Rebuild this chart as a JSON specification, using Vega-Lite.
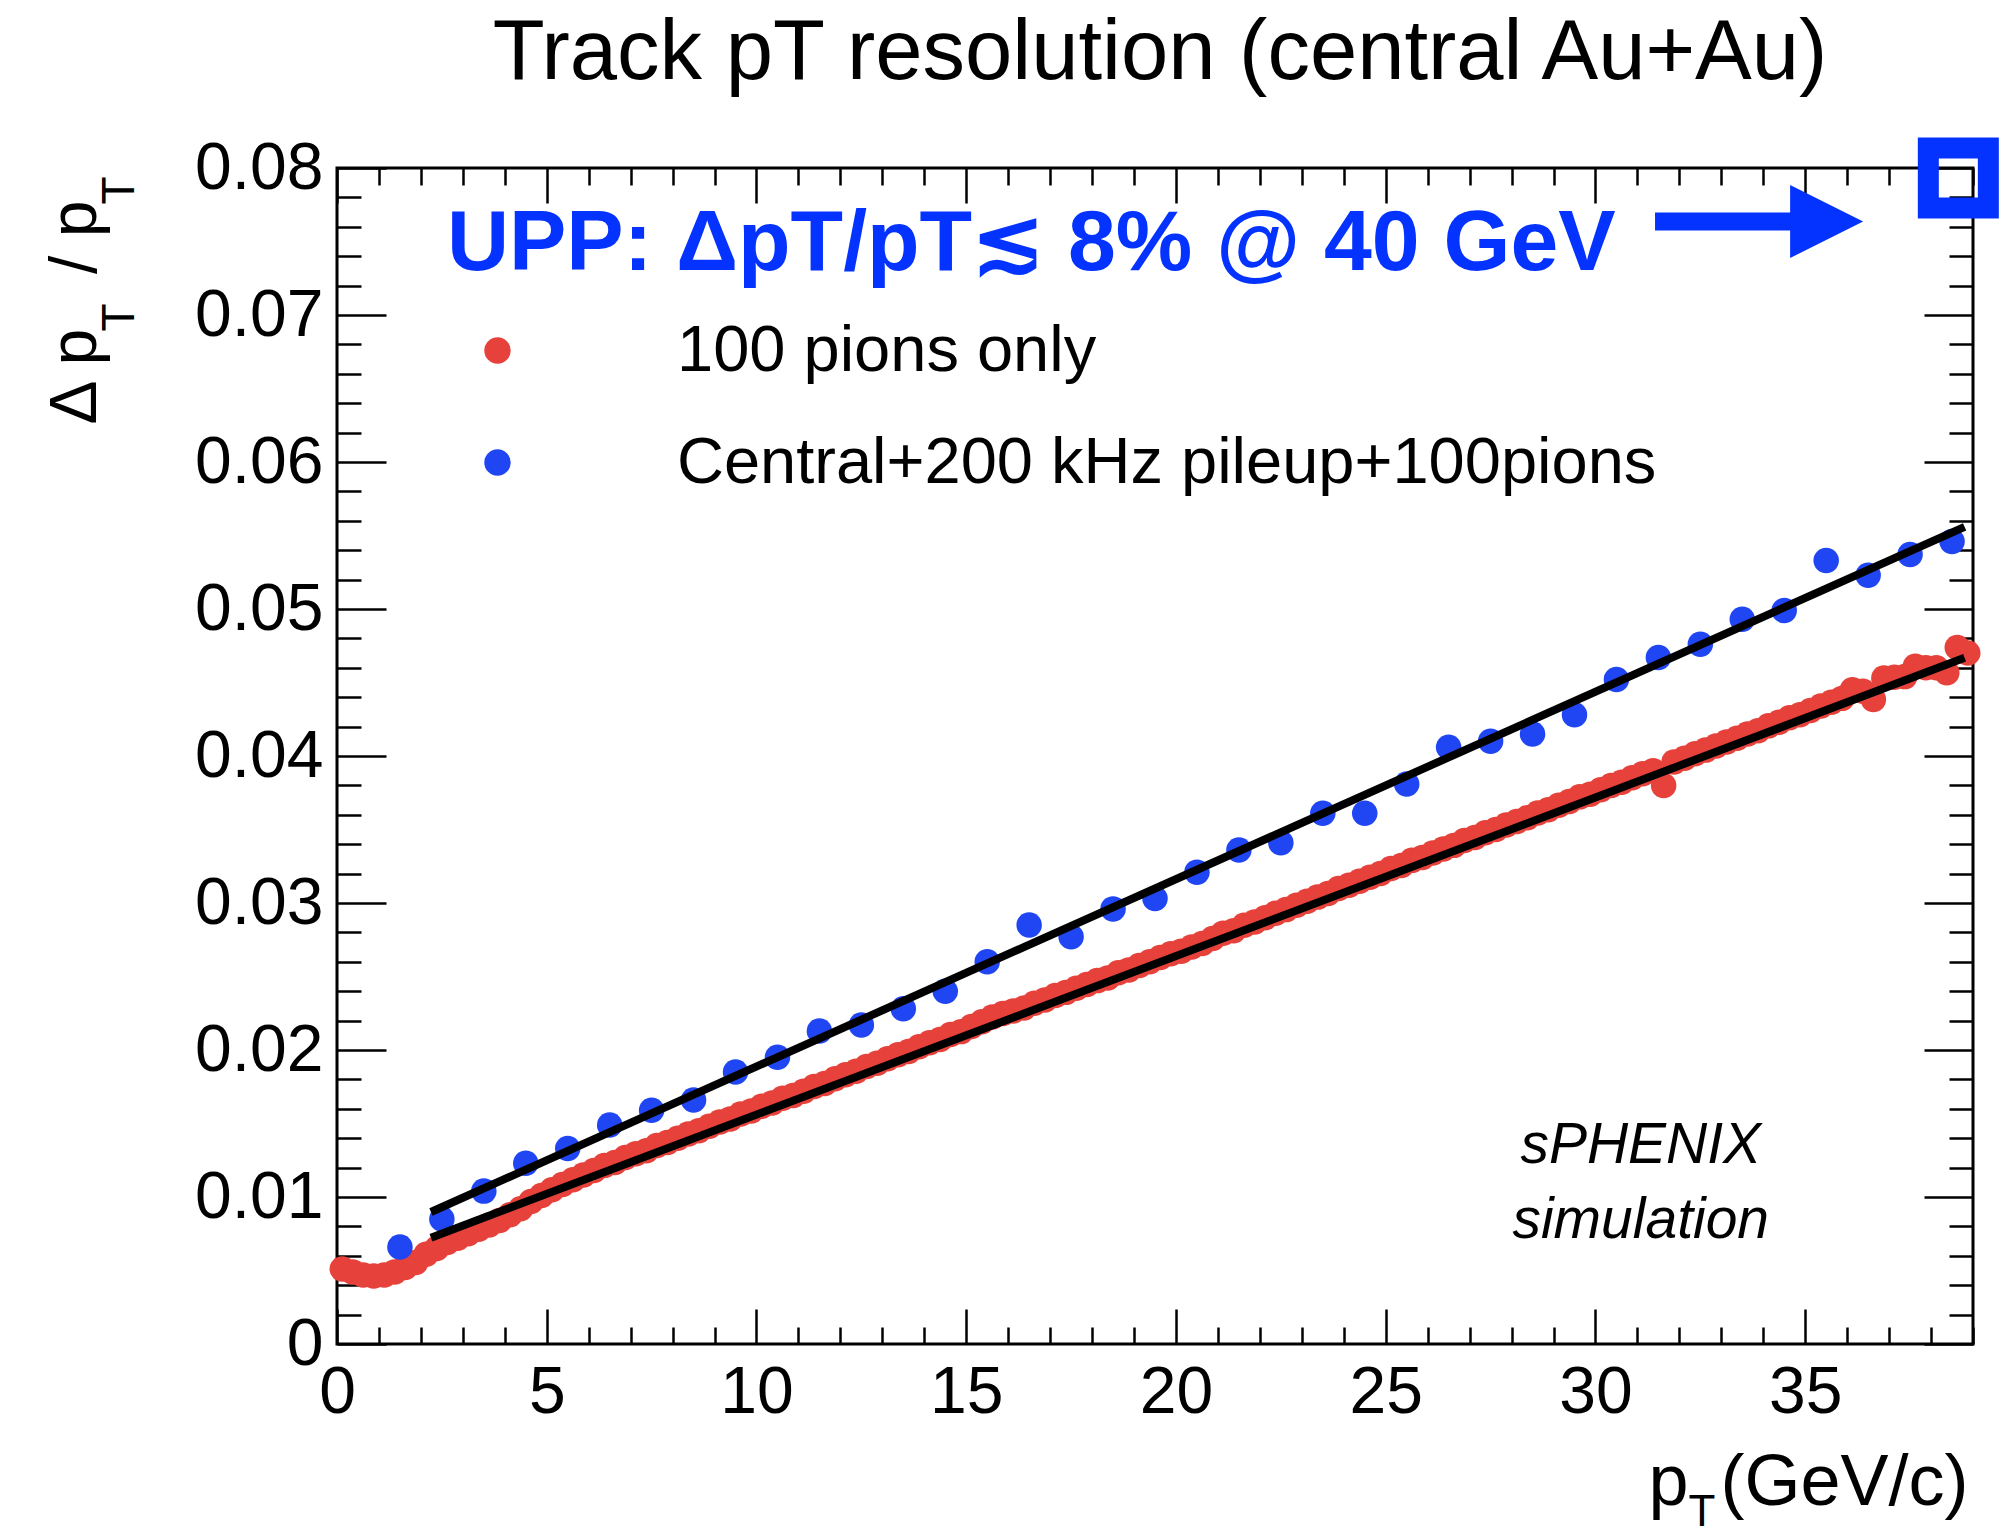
{
  "$schema": "https://vega.github.io/schema/vega-lite/v6.json",
  "width": 1636,
  "height": 1176,
  "autosize": {"type": "none"},
  "padding": {"left": 337, "top": 168, "right": 29, "bottom": 192},
  "background": "white",
  "title": {"text": "Track pT resolution (central Au+Au)", "fontSize": 85, "font": "Liberation Sans", "fontWeight": "normal", "anchor": "middle", "baseline": "alphabetic", "offset": -58, "dx": 5, "color": "black"},
  "config": {
    "view": {"stroke": "black", "strokeWidth": 3},
    "font": "Liberation Sans",
    "axis": {"grid": false, "domain": false, "labelFont": "Liberation Sans", "titleFont": "Liberation Sans", "labelColor": "black", "titleColor": "black", "tickColor": "black", "titleFontWeight": "normal", "labelFlush": false, "labelOverlap": false, "labelBound": false}
  },
  "resolve": {"axis": {"x": "independent", "y": "independent"}},
  "layer": [
    {
      "data": {"name": "points", "values": [
        {"pt":0.125,"res":0.0051,"series":"100 pions only"},{"pt":0.375,"res":0.0049,"series":"100 pions only"},{"pt":0.625,"res":0.0047,"series":"100 pions only"},{"pt":0.875,"res":0.00462,"series":"100 pions only"},
        {"pt":1.125,"res":0.0047,"series":"100 pions only"},{"pt":1.375,"res":0.0049,"series":"100 pions only"},{"pt":1.625,"res":0.0052,"series":"100 pions only"},{"pt":1.875,"res":0.00555,"series":"100 pions only"},
        {"pt":2.125,"res":0.0061,"series":"100 pions only"},{"pt":2.375,"res":0.0065,"series":"100 pions only"},{"pt":2.625,"res":0.0069,"series":"100 pions only"},{"pt":2.875,"res":0.0072,"series":"100 pions only"},
        {"pt":3.125,"res":0.0075,"series":"100 pions only"},{"pt":3.375,"res":0.0078,"series":"100 pions only"},{"pt":3.625,"res":0.0081,"series":"100 pions only"},{"pt":3.875,"res":0.0084,"series":"100 pions only"},
        {"pt":4.125,"res":0.0088,"series":"100 pions only"},{"pt":4.375,"res":0.0092,"series":"100 pions only"},{"pt":4.625,"res":0.0097,"series":"100 pions only"},{"pt":4.875,"res":0.0101,"series":"100 pions only"},
        {"pt":5.125,"res":0.0105,"series":"100 pions only"},{"pt":5.375,"res":0.01085,"series":"100 pions only"},{"pt":5.625,"res":0.01118,"series":"100 pions only"},{"pt":5.875,"res":0.0115,"series":"100 pions only"},
        {"pt":6.125,"res":0.0118,"series":"100 pions only"},{"pt":6.375,"res":0.01215,"series":"100 pions only"},{"pt":6.625,"res":0.01235,"series":"100 pions only"},{"pt":6.875,"res":0.01268,"series":"100 pions only"},
        {"pt":7.125,"res":0.01295,"series":"100 pions only"},{"pt":7.375,"res":0.01315,"series":"100 pions only"},{"pt":7.625,"res":0.0135,"series":"100 pions only"},{"pt":7.875,"res":0.0137,"series":"100 pions only"},
        {"pt":8.125,"res":0.014,"series":"100 pions only"},{"pt":8.375,"res":0.01428,"series":"100 pions only"},{"pt":8.625,"res":0.0145,"series":"100 pions only"},{"pt":8.875,"res":0.01482,"series":"100 pions only"},
        {"pt":9.125,"res":0.0151,"series":"100 pions only"},{"pt":9.375,"res":0.0153,"series":"100 pions only"},{"pt":9.625,"res":0.01565,"series":"100 pions only"},{"pt":9.875,"res":0.01585,"series":"100 pions only"},
        {"pt":10.125,"res":0.01618,"series":"100 pions only"},{"pt":10.375,"res":0.0164,"series":"100 pions only"},{"pt":10.625,"res":0.01672,"series":"100 pions only"},{"pt":10.875,"res":0.0169,"series":"100 pions only"},
        {"pt":11.125,"res":0.0172,"series":"100 pions only"},{"pt":11.375,"res":0.01752,"series":"100 pions only"},{"pt":11.625,"res":0.01772,"series":"100 pions only"},{"pt":11.875,"res":0.01805,"series":"100 pions only"},
        {"pt":12.125,"res":0.01832,"series":"100 pions only"},{"pt":12.375,"res":0.01855,"series":"100 pions only"},{"pt":12.625,"res":0.01888,"series":"100 pions only"},{"pt":12.875,"res":0.0191,"series":"100 pions only"},
        {"pt":13.125,"res":0.0194,"series":"100 pions only"},{"pt":13.375,"res":0.01968,"series":"100 pions only"},{"pt":13.625,"res":0.0199,"series":"100 pions only"},{"pt":13.875,"res":0.02022,"series":"100 pions only"},
        {"pt":14.125,"res":0.0205,"series":"100 pions only"},{"pt":14.375,"res":0.02072,"series":"100 pions only"},{"pt":14.625,"res":0.02105,"series":"100 pions only"},{"pt":14.875,"res":0.02125,"series":"100 pions only"},
        {"pt":15.125,"res":0.0216,"series":"100 pions only"},{"pt":15.375,"res":0.02192,"series":"100 pions only"},{"pt":15.625,"res":0.02225,"series":"100 pions only"},{"pt":15.875,"res":0.02248,"series":"100 pions only"},
        {"pt":16.125,"res":0.02265,"series":"100 pions only"},{"pt":16.375,"res":0.02285,"series":"100 pions only"},{"pt":16.625,"res":0.02318,"series":"100 pions only"},{"pt":16.875,"res":0.0234,"series":"100 pions only"},
        {"pt":17.125,"res":0.0237,"series":"100 pions only"},{"pt":17.375,"res":0.02392,"series":"100 pions only"},{"pt":17.625,"res":0.0242,"series":"100 pions only"},{"pt":17.875,"res":0.02445,"series":"100 pions only"},
        {"pt":18.125,"res":0.02472,"series":"100 pions only"},{"pt":18.375,"res":0.0249,"series":"100 pions only"},{"pt":18.625,"res":0.02525,"series":"100 pions only"},{"pt":18.875,"res":0.02545,"series":"100 pions only"},
        {"pt":19.125,"res":0.02575,"series":"100 pions only"},{"pt":19.375,"res":0.026,"series":"100 pions only"},{"pt":19.625,"res":0.0263,"series":"100 pions only"},{"pt":19.875,"res":0.02655,"series":"100 pions only"},
        {"pt":20.125,"res":0.02672,"series":"100 pions only"},{"pt":20.375,"res":0.027,"series":"100 pions only"},{"pt":20.625,"res":0.02725,"series":"100 pions only"},{"pt":20.875,"res":0.02758,"series":"100 pions only"},
        {"pt":21.125,"res":0.02795,"series":"100 pions only"},{"pt":21.375,"res":0.02812,"series":"100 pions only"},{"pt":21.625,"res":0.02848,"series":"100 pions only"},{"pt":21.875,"res":0.0287,"series":"100 pions only"},
        {"pt":22.125,"res":0.029,"series":"100 pions only"},{"pt":22.375,"res":0.0293,"series":"100 pions only"},{"pt":22.625,"res":0.02955,"series":"100 pions only"},{"pt":22.875,"res":0.02985,"series":"100 pions only"},
        {"pt":23.125,"res":0.03012,"series":"100 pions only"},{"pt":23.375,"res":0.0304,"series":"100 pions only"},{"pt":23.625,"res":0.03065,"series":"100 pions only"},{"pt":23.875,"res":0.03098,"series":"100 pions only"},
        {"pt":24.125,"res":0.0312,"series":"100 pions only"},{"pt":24.375,"res":0.03148,"series":"100 pions only"},{"pt":24.625,"res":0.03175,"series":"100 pions only"},{"pt":24.875,"res":0.032,"series":"100 pions only"},
        {"pt":25.125,"res":0.03235,"series":"100 pions only"},{"pt":25.375,"res":0.03255,"series":"100 pions only"},{"pt":25.625,"res":0.0329,"series":"100 pions only"},{"pt":25.875,"res":0.0331,"series":"100 pions only"},
        {"pt":26.125,"res":0.0334,"series":"100 pions only"},{"pt":26.375,"res":0.03368,"series":"100 pions only"},{"pt":26.625,"res":0.03392,"series":"100 pions only"},{"pt":26.875,"res":0.03425,"series":"100 pions only"},
        {"pt":27.125,"res":0.03445,"series":"100 pions only"},{"pt":27.375,"res":0.03478,"series":"100 pions only"},{"pt":27.625,"res":0.035,"series":"100 pions only"},{"pt":27.875,"res":0.0353,"series":"100 pions only"},
        {"pt":28.125,"res":0.03555,"series":"100 pions only"},{"pt":28.375,"res":0.0358,"series":"100 pions only"},{"pt":28.625,"res":0.03612,"series":"100 pions only"},{"pt":28.875,"res":0.03635,"series":"100 pions only"},
        {"pt":29.125,"res":0.03665,"series":"100 pions only"},{"pt":29.375,"res":0.0369,"series":"100 pions only"},{"pt":29.625,"res":0.03722,"series":"100 pions only"},{"pt":29.875,"res":0.0374,"series":"100 pions only"},
        {"pt":30.125,"res":0.0377,"series":"100 pions only"},{"pt":30.375,"res":0.038,"series":"100 pions only"},{"pt":30.625,"res":0.03822,"series":"100 pions only"},{"pt":30.875,"res":0.03852,"series":"100 pions only"},
        {"pt":31.125,"res":0.0388,"series":"100 pions only"},{"pt":31.375,"res":0.039,"series":"100 pions only"},{"pt":31.625,"res":0.038,"series":"100 pions only"},{"pt":31.875,"res":0.0396,"series":"100 pions only"},
        {"pt":32.125,"res":0.03985,"series":"100 pions only"},{"pt":32.375,"res":0.04015,"series":"100 pions only"},{"pt":32.625,"res":0.0404,"series":"100 pions only"},{"pt":32.875,"res":0.04068,"series":"100 pions only"},
        {"pt":33.125,"res":0.04095,"series":"100 pions only"},{"pt":33.375,"res":0.0412,"series":"100 pions only"},{"pt":33.625,"res":0.0415,"series":"100 pions only"},{"pt":33.875,"res":0.04172,"series":"100 pions only"},
        {"pt":34.125,"res":0.04205,"series":"100 pions only"},{"pt":34.375,"res":0.0423,"series":"100 pions only"},{"pt":34.625,"res":0.0426,"series":"100 pions only"},{"pt":34.875,"res":0.0428,"series":"100 pions only"},
        {"pt":35.125,"res":0.0431,"series":"100 pions only"},{"pt":35.375,"res":0.0434,"series":"100 pions only"},{"pt":35.625,"res":0.04365,"series":"100 pions only"},{"pt":35.875,"res":0.04392,"series":"100 pions only"},
        {"pt":36.125,"res":0.0445,"series":"100 pions only"},{"pt":36.375,"res":0.0444,"series":"100 pions only"},{"pt":36.625,"res":0.04385,"series":"100 pions only"},{"pt":36.875,"res":0.0453,"series":"100 pions only"},
        {"pt":37.125,"res":0.04535,"series":"100 pions only"},{"pt":37.375,"res":0.0454,"series":"100 pions only"},{"pt":37.625,"res":0.0461,"series":"100 pions only"},{"pt":37.875,"res":0.046,"series":"100 pions only"},
        {"pt":38.125,"res":0.046,"series":"100 pions only"},{"pt":38.375,"res":0.04567,"series":"100 pions only"},{"pt":38.625,"res":0.04738,"series":"100 pions only"},{"pt":38.875,"res":0.047,"series":"100 pions only"},
        {"pt":1.5,"res":0.0066,"series":"Central+200 kHz pileup+100pions"},{"pt":2.5,"res":0.0085,"series":"Central+200 kHz pileup+100pions"},{"pt":3.5,"res":0.0104,"series":"Central+200 kHz pileup+100pions"},{"pt":4.5,"res":0.0123,"series":"Central+200 kHz pileup+100pions"},
        {"pt":5.5,"res":0.0133,"series":"Central+200 kHz pileup+100pions"},{"pt":6.5,"res":0.0149,"series":"Central+200 kHz pileup+100pions"},{"pt":7.5,"res":0.0159,"series":"Central+200 kHz pileup+100pions"},{"pt":8.5,"res":0.0166,"series":"Central+200 kHz pileup+100pions"},
        {"pt":9.5,"res":0.0185,"series":"Central+200 kHz pileup+100pions"},{"pt":10.5,"res":0.0195,"series":"Central+200 kHz pileup+100pions"},{"pt":11.5,"res":0.0213,"series":"Central+200 kHz pileup+100pions"},{"pt":12.5,"res":0.0217,"series":"Central+200 kHz pileup+100pions"},
        {"pt":13.5,"res":0.0228,"series":"Central+200 kHz pileup+100pions"},{"pt":14.5,"res":0.024,"series":"Central+200 kHz pileup+100pions"},{"pt":15.5,"res":0.026,"series":"Central+200 kHz pileup+100pions"},{"pt":16.5,"res":0.0285,"series":"Central+200 kHz pileup+100pions"},
        {"pt":17.5,"res":0.0277,"series":"Central+200 kHz pileup+100pions"},{"pt":18.5,"res":0.0296,"series":"Central+200 kHz pileup+100pions"},{"pt":19.5,"res":0.0303,"series":"Central+200 kHz pileup+100pions"},{"pt":20.5,"res":0.0321,"series":"Central+200 kHz pileup+100pions"},
        {"pt":21.5,"res":0.0336,"series":"Central+200 kHz pileup+100pions"},{"pt":22.5,"res":0.0341,"series":"Central+200 kHz pileup+100pions"},{"pt":23.5,"res":0.0361,"series":"Central+200 kHz pileup+100pions"},{"pt":24.5,"res":0.0361,"series":"Central+200 kHz pileup+100pions"},
        {"pt":25.5,"res":0.0381,"series":"Central+200 kHz pileup+100pions"},{"pt":26.5,"res":0.0406,"series":"Central+200 kHz pileup+100pions"},{"pt":27.5,"res":0.041,"series":"Central+200 kHz pileup+100pions"},{"pt":28.5,"res":0.0415,"series":"Central+200 kHz pileup+100pions"},
        {"pt":29.5,"res":0.0428,"series":"Central+200 kHz pileup+100pions"},{"pt":30.5,"res":0.0452,"series":"Central+200 kHz pileup+100pions"},{"pt":31.5,"res":0.0467,"series":"Central+200 kHz pileup+100pions"},{"pt":32.5,"res":0.0476,"series":"Central+200 kHz pileup+100pions"},
        {"pt":33.5,"res":0.0493,"series":"Central+200 kHz pileup+100pions"},{"pt":34.5,"res":0.0499,"series":"Central+200 kHz pileup+100pions"},{"pt":35.5,"res":0.0533,"series":"Central+200 kHz pileup+100pions"},{"pt":36.5,"res":0.0523,"series":"Central+200 kHz pileup+100pions"},
        {"pt":37.5,"res":0.0537,"series":"Central+200 kHz pileup+100pions"},{"pt":38.5,"res":0.0546,"series":"Central+200 kHz pileup+100pions"}
      ]},
      "mark": {"type": "circle", "size": 650, "opacity": 1},
      "encoding": {
        "x": {"field": "pt", "type": "quantitative", "scale": {"domain": [0, 39], "nice": false, "zero": false},
          "axis": {"orient": "bottom", "values": [0, 5, 10, 15, 20, 25, 30, 35], "ticks": false, "labelFontSize": 66, "labelPadding": 16,
            "title": "(GeV/c)", "titleFontSize": 72, "titleAnchor": "end", "titleAlign": "right", "titleBaseline": "alphabetic", "titleX": 1631, "titleY": 160}},
        "y": {"field": "res", "type": "quantitative", "scale": {"domain": [0, 0.08], "nice": false, "zero": false},
          "axis": {"orient": "left", "values": [0, 0.01, 0.02, 0.03, 0.04, 0.05, 0.06, 0.07, 0.08], "ticks": false, "labelFontSize": 66, "labelPadding": 14,
            "labelExpr": "datum.value === 0 ? '0' : format(datum.value, '.2f')",
            "title": "Δ p\u00a0\u00a0 / p", "titleFontSize": 66, "titleAngle": 270, "titleAlign": "right", "titleBaseline": "alphabetic", "titleX": -242, "titleY": 32}},
        "color": {"field": "series", "type": "nominal",
          "scale": {"domain": ["100 pions only", "Central+200 kHz pileup+100pions"], "range": ["#e6413a", "#2046f4"]},
          "legend": {"orient": "none", "legendX": 128, "legendY": 150, "title": null, "labelFontSize": 65, "labelFont": "Liberation Sans", "labelColor": "black",
            "symbolType": "circle", "symbolSize": 700, "symbolStrokeWidth": 0, "labelOffset": 147, "rowPadding": 46, "padding": 0, "labelLimit": 0}}
      }
    },
    {
      "data": {"values": [
        {"fit": "pions", "pt": 2.24, "res": 0.00723},
        {"fit": "pions", "pt": 38.8, "res": 0.04668},
        {"fit": "pileup", "pt": 2.24, "res": 0.00898},
        {"fit": "pileup", "pt": 38.8, "res": 0.05559}
      ]},
      "mark": {"type": "line", "color": "black", "strokeWidth": 8},
      "encoding": {
        "x": {"field": "pt", "type": "quantitative", "scale": {"domain": [0, 39], "nice": false, "zero": false},
          "axis": {"orient": "bottom", "values": [0,1,2,3,4,5,6,7,8,9,10,11,12,13,14,15,16,17,18,19,20,21,22,23,24,25,26,27,28,29,30,31,32,33,34,35,36,37,38,39],
            "labels": false, "tickWidth": 2.5, "tickSize": {"condition": {"test": "datum.value % 5 === 0", "value": -35}, "value": -17},
            "title": "T", "titleFontSize": 44, "titleAlign": "left", "titleBaseline": "alphabetic", "titleX": 1351, "titleY": 181}},
        "y": {"field": "res", "type": "quantitative", "scale": {"domain": [0, 0.08], "nice": false, "zero": false},
          "axis": {"orient": "left", "values": [0,0.002,0.004,0.006,0.008,0.01,0.012,0.014,0.016,0.018,0.02,0.022,0.024,0.026,0.028,0.03,0.032,0.034,0.036,0.038,0.04,0.042,0.044,0.046,0.048,0.05,0.052,0.054,0.056,0.058,0.06,0.062,0.064,0.066,0.068,0.07,0.072,0.074,0.076,0.078,0.08],
            "labels": false, "tickWidth": 2.5, "tickSize": {"condition": {"test": "round(datum.value * 1000) % 10 === 0", "value": -49}, "value": -24},
            "title": "T", "titleFontSize": 46, "titleAngle": 270, "titleAlign": "right", "titleBaseline": "alphabetic", "titleX": -204, "titleY": 135}},
        "detail": {"field": "fit", "type": "nominal"}
      }
    },
    {
      "data": {"values": [{"pt": 31.42, "pt2": 34.8, "res": 0.07636}]},
      "mark": {"type": "rule", "color": "#0433ff", "strokeWidth": 18, "strokeCap": "butt"},
      "encoding": {
        "x": {"field": "pt", "type": "quantitative", "scale": {"domain": [0, 39], "nice": false, "zero": false},
          "axis": {"orient": "top", "values": [0,1,2,3,4,5,6,7,8,9,10,11,12,13,14,15,16,17,18,19,20,21,22,23,24,25,26,27,28,29,30,31,32,33,34,35,36,37,38,39],
            "labels": false, "title": null, "tickWidth": 2.5, "tickSize": {"condition": {"test": "datum.value % 5 === 0", "value": -35}, "value": -17}}},
        "x2": {"field": "pt2"},
        "y": {"field": "res", "type": "quantitative", "scale": {"domain": [0, 0.08], "nice": false, "zero": false},
          "axis": {"orient": "right", "values": [0,0.002,0.004,0.006,0.008,0.01,0.012,0.014,0.016,0.018,0.02,0.022,0.024,0.026,0.028,0.03,0.032,0.034,0.036,0.038,0.04,0.042,0.044,0.046,0.048,0.05,0.052,0.054,0.056,0.058,0.06,0.062,0.064,0.066,0.068,0.07,0.072,0.074,0.076,0.078,0.08],
            "labels": false, "title": null, "tickWidth": 2.5, "tickSize": {"condition": {"test": "round(datum.value * 1000) % 10 === 0", "value": -49}, "value": -24}}}
      }
    },
    {
      "data": {"values": [{"pt": 35.51, "res": 0.07636}]},
      "mark": {"type": "point", "shape": "M-1,-1L1,0L-1,1Z", "size": 5329, "filled": true, "color": "#0433ff", "opacity": 1, "strokeWidth": 0},
      "encoding": {
        "x": {"field": "pt", "type": "quantitative", "scale": {"domain": [0, 39], "nice": false, "zero": false},
          "axis": {"orient": "bottom", "labels": false, "ticks": false, "values": [0],
            "title": "p", "titleFontSize": 72, "titleAlign": "left", "titleBaseline": "alphabetic", "titleX": 1311, "titleY": 160}},
        "y": {"field": "res", "type": "quantitative", "scale": {"domain": [0, 0.08], "nice": false, "zero": false},
          "axis": {"orient": "left", "labels": false, "ticks": false, "values": [0],
            "title": "T", "titleFontSize": 46, "titleAngle": 270, "titleAlign": "right", "titleBaseline": "alphabetic", "titleX": -204, "titleY": 8}}
      }
    },
    {
      "data": {"values": [{"pt": 38.65, "res": 0.07932}]},
      "mark": {"type": "point", "shape": "square", "size": 3600, "filled": false, "color": "#0433ff", "strokeWidth": 21, "opacity": 1},
      "encoding": {
        "x": {"field": "pt", "type": "quantitative", "scale": {"domain": [0, 39], "nice": false, "zero": false}, "axis": null},
        "y": {"field": "res", "type": "quantitative", "scale": {"domain": [0, 0.08], "nice": false, "zero": false}, "axis": null}
      }
    },
    {
      "data": {"values": [{"pt": 31.08, "res": 0.01228, "label": "sPHENIX"}, {"pt": 31.08, "res": 0.00724, "label": "simulation"}]},
      "mark": {"type": "text", "font": "Liberation Sans", "fontStyle": "italic", "fontSize": 57, "align": "center", "baseline": "alphabetic", "color": "black"},
      "encoding": {
        "x": {"field": "pt", "type": "quantitative", "scale": {"domain": [0, 39], "nice": false, "zero": false}, "axis": null},
        "y": {"field": "res", "type": "quantitative", "scale": {"domain": [0, 0.08], "nice": false, "zero": false}, "axis": null},
        "text": {"field": "label"}
      }
    },
    {
      "data": {"values": [{"pt": 2.62, "res": 0.07303, "label": "UPP: ΔpT/pT≲ 8% @ 40 GeV"}]},
      "mark": {"type": "text", "font": "Liberation Sans", "fontWeight": "bold", "fontSize": 86, "align": "left", "baseline": "alphabetic", "color": "#0433ff"},
      "encoding": {
        "x": {"field": "pt", "type": "quantitative", "scale": {"domain": [0, 39], "nice": false, "zero": false}, "axis": null},
        "y": {"field": "res", "type": "quantitative", "scale": {"domain": [0, 0.08], "nice": false, "zero": false}, "axis": null},
        "text": {"field": "label"}
      }
    }
  ]
}
